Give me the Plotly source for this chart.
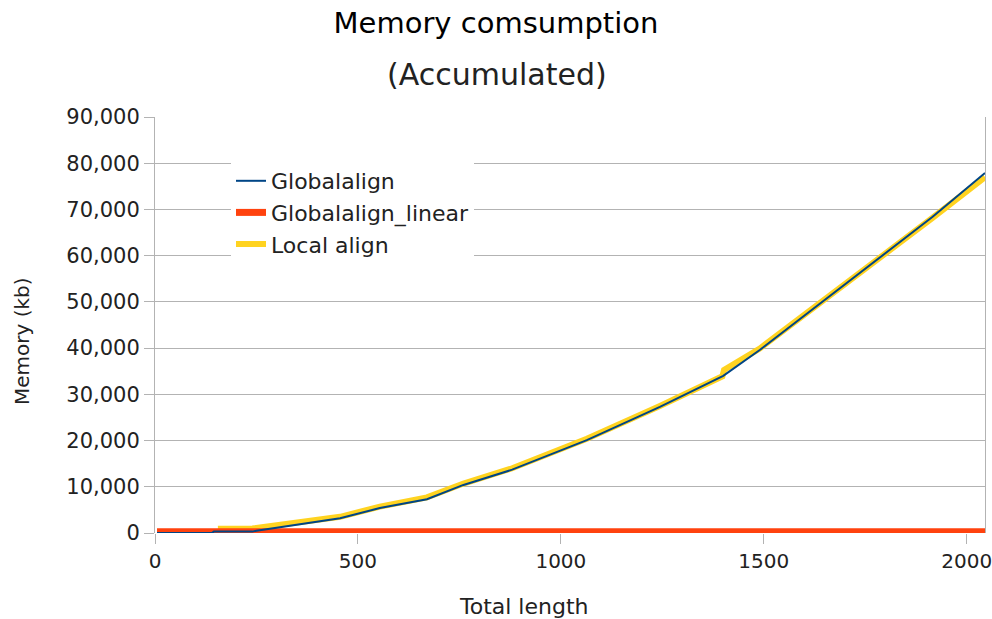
import plotly.graph_objects as go

# ---- data ----
global_x = [5, 140, 145, 240, 250, 456, 554, 670, 760, 880, 1064, 1244, 1400, 1490, 1916, 2045]
global_y = [0, 0, 300, 300, 500, 3200, 5400, 7300, 10400, 13700, 20100, 27300, 34000, 39600, 68400, 77900]

linear_x = [5, 500, 1000, 1500, 2045]
linear_y = [250, 260, 270, 280, 290]

local_x = [155, 240, 456, 554, 670, 760, 880, 1064, 1244, 1398, 1402, 1490, 1916, 2045]
local_y = [900, 1000, 3500, 5700, 7700, 10700, 14000, 20400, 27500, 33900, 35300, 39900, 68200, 77000]

x_ticks = [0, 500, 1000, 1500, 2000]
y_ticks = [0, 10000, 20000, 30000, 40000, 50000, 60000, 70000, 80000, 90000]

FONT = "DejaVu Sans"
GRID = "#b3b3b3"
TXT = "#222222"

L, R, T, B = 155, 7, 117, 86
W, H = 992, 619
PW, PH = W - L - R, H - T - B


def px(xp):
    return (xp - L) / PW


def py(yp):
    return (H - B - yp) / PH


fig = go.Figure()
fig.add_trace(go.Scatter(x=local_x, y=local_y, mode="lines", name="Local align",
                         line=dict(color="#ffd320", width=6), legendrank=3, legendgroup="c"))
fig.add_trace(go.Scatter(x=linear_x, y=linear_y, mode="lines", name="Globalalign_linear",
                         line=dict(color="#ff420e", width=7), legendrank=2, legendgroup="b"))
fig.add_trace(go.Scatter(x=global_x, y=global_y, mode="lines", name="Globalalign",
                         line=dict(color="#004586", width=2), legendrank=1, legendgroup="a"))

fig.update_layout(
    width=W, height=H,
    margin=dict(l=L, r=R, t=T, b=B, autoexpand=False),
    paper_bgcolor="white", plot_bgcolor="white",
    font=dict(family=FONT, color=TXT, size=21),
    title=dict(text="Memory comsumption", x=0.5, xref="container", xanchor="center",
               y=1 - 23 / H, yref="container", yanchor="middle",
               font=dict(family=FONT, size=29, color="#000000")),
    annotations=[
        dict(text="(Accumulated)", xref="paper", yref="paper",
             x=px(497), y=py(75), xanchor="center", yanchor="middle", showarrow=False,
             font=dict(family=FONT, size=30, color=TXT)),
        dict(text="Total length", xref="paper", yref="paper",
             x=px(524), y=py(606), xanchor="center", yanchor="middle", showarrow=False,
             font=dict(family=FONT, size=22, color=TXT)),
        dict(text="Memory (kb)", xref="paper", yref="paper", textangle=-90,
             x=px(22), y=py(341), xanchor="center", yanchor="middle", showarrow=False,
             font=dict(family=FONT, size=20, color=TXT)),
    ],
    legend=dict(x=px(231), y=py(160), xanchor="left", yanchor="top",
                bgcolor="white", borderwidth=0, tracegroupgap=0, itemwidth=30,
                font=dict(family=FONT, size=22, color=TXT)),
    showlegend=True,
)

fig.update_xaxes(range=[0, 2045], tickvals=x_ticks, ticktext=[str(v) for v in x_ticks],
                 showgrid=False, zeroline=False, showline=False, automargin=False,
                 ticks="outside", ticklen=10, tickcolor=GRID, tickwidth=1,
                 ticklabeloverflow="allow",
                 tickfont=dict(family=FONT, size=20, color=TXT))
fig.update_yaxes(range=[0, 90000], tickvals=y_ticks, tickformat=",",
                 showgrid=True, gridcolor=GRID, gridwidth=1, zeroline=False,
                 showline=True, linecolor=GRID, linewidth=1, mirror=True, automargin=False,
                 ticks="outside", ticklen=10, tickcolor=GRID, tickwidth=1,
                 ticklabeloverflow="allow",
                 tickfont=dict(family=FONT, size=21, color=TXT))

fig.write_html("out.html", config={"displayModeBar": False},
               post_script="document.body.style.margin='0';document.body.style.overflow='hidden';")
